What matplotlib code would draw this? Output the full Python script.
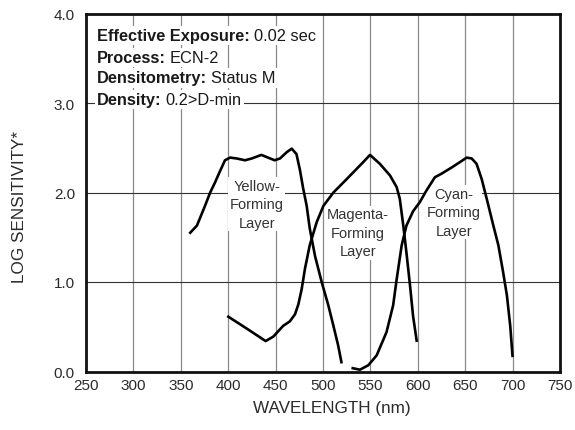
import matplotlib
matplotlib.use("Agg")
import matplotlib.pyplot as plt
import numpy as np

plt.rcParams['font.family'] = ['Liberation Sans', 'DejaVu Sans']

# Yellow-forming layer
yellow_wl = [359, 367, 375.5, 381, 386, 391, 396.6, 402, 409, 417.7, 424.8, 435, 442, 449, 454.6,
             461.7, 467, 472, 475.7, 479, 482.8, 486, 491.6, 498.6, 505.6, 511, 516, 519.7]
yellow_d = [1.54, 1.63, 1.85, 2.0, 2.11, 2.23, 2.36, 2.39, 2.38, 2.36, 2.38, 2.42, 2.39, 2.36, 2.38,
            2.45, 2.49, 2.43, 2.25, 2.05, 1.85, 1.60, 1.29, 1.0, 0.74, 0.51, 0.29, 0.09]

# Magenta-forming layer
magenta_wl = [399, 419.5, 439.5, 447.6, 458, 465, 470.5, 474, 477.5, 481, 486, 493.4, 500.4, 511,
              525, 542.5, 549.6, 560, 570.7, 577.7, 581, 584.7, 588, 591.8, 595, 599]
magenta_d = [0.62, 0.48, 0.34, 0.39, 0.51, 0.56, 0.64, 0.75, 0.92, 1.15, 1.41, 1.67, 1.85, 2.0,
             2.15, 2.34, 2.42, 2.32, 2.19, 2.06, 1.93, 1.63, 1.33, 0.96, 0.62, 0.33]

# Cyan-forming layer
cyan_wl = [530, 539, 547.8, 556.6, 567, 574, 577.7, 583, 588, 595, 602, 609, 618, 625, 635.8,
           644.5, 651.6, 656.9, 662, 667.4, 672.7, 679.7, 685, 690, 694, 697.5, 700]
cyan_d = [0.04, 0.02, 0.07, 0.18, 0.44, 0.74, 1.03, 1.41, 1.63, 1.79, 1.89, 2.02, 2.17, 2.21, 2.28,
          2.34, 2.39, 2.38, 2.32, 2.15, 1.93, 1.63, 1.41, 1.11, 0.85, 0.51, 0.16]

x_ticks = [250, 300, 350, 400, 450, 500, 550, 600, 650, 700, 750]
y_ticks = [0.0, 1.0, 2.0, 3.0, 4.0]

info_labels = ["Effective Exposure:", "Process:", "Densitometry:", "Density:"]
info_values = ["0.02 sec", "ECN-2", "Status M", "0.2>D-min"]

fig = plt.figure(figsize=(5.75, 4.31), dpi=100)
ax = fig.add_axes([86/575, 1-372.5/431, 474/575, 358/431])

ax.set_xlim(250, 750)
ax.set_ylim(0, 4)
ax.set_xticks(x_ticks)
ax.set_yticks(y_ticks)
ax.set_yticklabels([f"{v:.1f}" for v in y_ticks])
ax.tick_params(length=0, labelsize=11, colors='#2a2a2a')
ax.tick_params(axis='x', pad=5)
ax.tick_params(axis='y', pad=8)

for xv in x_ticks[1:-1]:
    ax.axvline(xv, color='#8a8a8a', lw=0.9, zorder=1)
for yv in y_ticks[1:-1]:
    ax.axhline(yv, color='#333333', lw=0.8, zorder=1)

for s in ax.spines.values():
    s.set_linewidth(2.0)
    s.set_color('#111111')
    s.set_zorder(5)

lw = 1.9
ax.plot(yellow_wl, yellow_d, color='black', lw=lw, zorder=4, solid_capstyle='butt')
ax.plot(magenta_wl, magenta_d, color='black', lw=lw, zorder=4, solid_capstyle='butt')
ax.plot(cyan_wl, cyan_d, color='black', lw=lw, zorder=4, solid_capstyle='butt')

bb = dict(facecolor='white', edgecolor='none', pad=1.0)
lab_kw = dict(ha='center', va='center', fontsize=10.5, color='#333333', linespacing=1.42,
              bbox=bb, zorder=3)
ax.text(430, 1.87, "Yellow-\nForming\nLayer", **lab_kw)
ax.text(537, 1.55, "Magenta-\nForming\nLayer", **lab_kw)
ax.text(638, 1.78, "Cyan-\nForming\nLayer", **lab_kw)

ax.set_xlabel("WAVELENGTH (nm)", fontsize=12.3, color='#2a2a2a')
ax.xaxis.set_label_coords(0.519, -0.08)
ax.set_ylabel("LOG SENSITIVITY*", fontsize=12.3, color='#2a2a2a', va='center')
ax.yaxis.set_label_coords(-0.14, 0.462)

baselines = [3.70, 3.46, 3.23, 2.99]
fig.canvas.draw()
renderer = fig.canvas.get_renderer()
for lab, val, yb in zip(info_labels, info_values, baselines):
    t1 = ax.text(261.6, yb, lab, fontsize=11.8, fontweight='bold', color='#1a1a1a',
                 va='baseline', ha='left', bbox=dict(facecolor='white', edgecolor='none', pad=1.5), zorder=3)
    ext = t1.get_window_extent(renderer)
    x1 = ax.transData.inverted().transform((ext.x1 + 4.0, ext.y0))[0]
    ax.text(x1, yb, val, fontsize=11.8, color='#1a1a1a', va='baseline', ha='left',
            bbox=dict(facecolor='white', edgecolor='none', pad=1.5), zorder=3)

fig.savefig("out.png", dpi=100)
